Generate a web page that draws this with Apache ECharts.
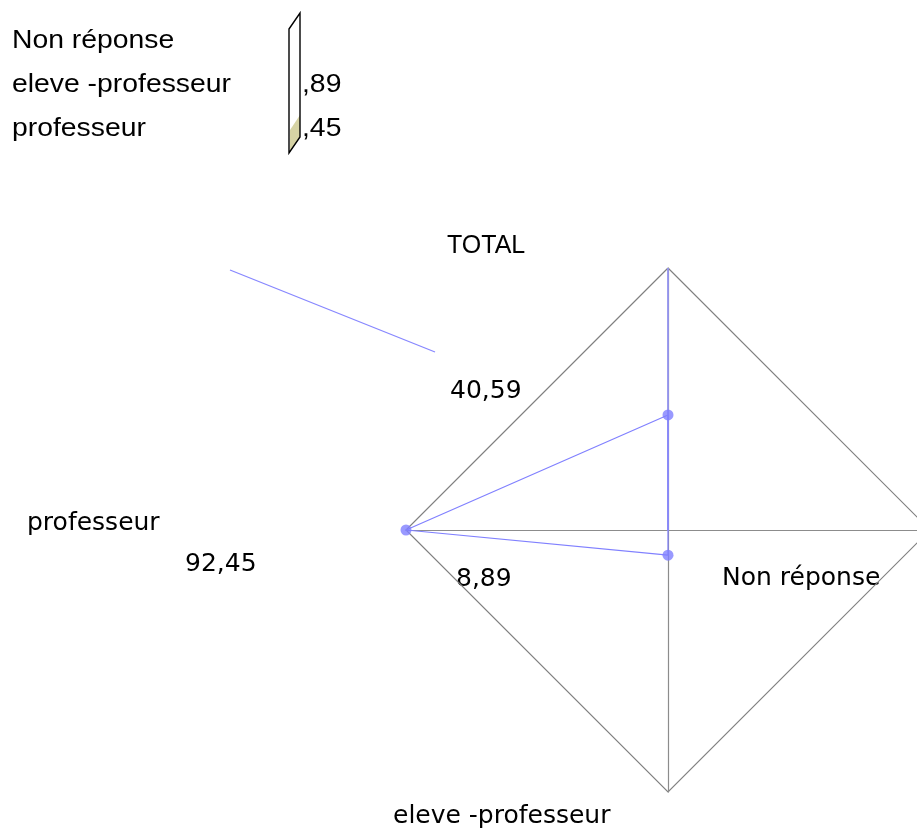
<!DOCTYPE html>
<html><head><meta charset="utf-8">
<script src="https://cdn.jsdelivr.net/npm/echarts@6/dist/echarts.min.js"></script>
<style>html,body{margin:0;padding:0;background:#fff}#c{width:917px;height:829px}</style>
</head><body><div id="c"></div>
<script>
// indicators in ECharts order (counter-clockwise from top)
const indicators = ['TOTAL', 'professeur', 'eleve -professeur', 'Non réponse'];
const values = [40.59, 92.45, 8.89, 0];
const totalRay = [92.45, 0, 0, 0];
const axisMax = 92.45;
const markedPoints = [[40.59, 'TOTAL'], [92.45, 'professeur'], [8.89, 'eleve -professeur']];
const legendNames = ['Non réponse', 'eleve -professeur', 'professeur'];
const legendValues = ['', ',89', ',45'];
const valueLabels = ['40,59', '92,45', '8,89'];

const chart = echarts.init(document.getElementById('c'));
const graphics = [];
legendNames.forEach((n, i) => {
  graphics.push({type:'group', x:12, y:28 + i*44, scaleX:1.09, children:[
    {type:'text', x:0, y:0, style:{text:n, fontFamily:'Liberation Sans', fontSize:26, fill:'#000'}}]});
  if (legendValues[i]) graphics.push({type:'group', x:302, y:28 + i*44, scaleX:1.09, children:[
    {type:'text', x:0, y:0, style:{text:legendValues[i], fontFamily:'Liberation Sans', fontSize:26, fill:'#000'}}]});
});
graphics.push({type:'polygon', shape:{points:[[290,130],[300,115],[300,137],[290,152]]}, style:{fill:'#d6d3a4', stroke:'none'}});
graphics.push({type:'polygon', shape:{points:[[289,29],[300,13],[300,137],[289,153]]}, style:{fill:'none', stroke:'#000', lineWidth:1.4}});
graphics.push({type:'line', shape:{x1:230,y1:270,x2:435,y2:352}, style:{stroke:'#8888ff', lineWidth:1.2}});
const dv = {fontFamily:'DejaVu Sans', fontSize:25, fill:'#000'};
// indicator names
graphics.push({type:'text', x:447, y:234, style:Object.assign({}, dv, {text:'TOTAL', fontFamily:'Liberation Sans'})});
graphics.push({type:'text', x:27, y:511, style:Object.assign({}, dv, {text:'professeur'})});
graphics.push({type:'text', x:722, y:566, style:Object.assign({}, dv, {text:'Non réponse'})});
graphics.push({type:'text', x:393, y:804, style:Object.assign({}, dv, {text:'eleve -professeur'})});
// value labels
graphics.push({type:'text', x:450, y:379, style:Object.assign({}, dv, {text:valueLabels[0]})});
graphics.push({type:'text', x:185, y:552, style:Object.assign({}, dv, {text:valueLabels[1]})});
graphics.push({type:'text', x:456, y:567, style:Object.assign({}, dv, {text:valueLabels[2]})});

chart.setOption({
  animation:false,
  backgroundColor:'#fff',
  radar:{
    center:[668,530], radius:262, startAngle:90, shape:'polygon', splitNumber:1,
    indicator: indicators.map(n => ({name:n, max:axisMax, min:0})),
    axisName:{show:false},
    axisLine:{lineStyle:{color:'#8c8c8c', width:1.2}},
    splitLine:{lineStyle:{color:'#808080', width:1.2}},
    splitArea:{show:false},
    axisTick:{show:false}, axisLabel:{show:false}
  },
  polar:{center:[668,530], radius:262},
  angleAxis:{type:'category', data:indicators, startAngle:90, clockwise:false, boundaryGap:false,
    axisLine:{show:false}, axisTick:{show:false}, axisLabel:{show:false}, splitLine:{show:false}},
  radiusAxis:{type:'value', min:0, max:axisMax,
    axisLine:{show:false}, axisTick:{show:false}, axisLabel:{show:false}, splitLine:{show:false}},
  series:[
    {type:'radar', data:[{value:totalRay}], symbol:'none', lineStyle:{color:'#9494f0', width:1.8}, z:2},
    {type:'radar', data:[{value:values}], symbol:'none', lineStyle:{color:'#8080ff', width:1.2}, z:3},
    {type:'scatter', coordinateSystem:'polar', data:markedPoints, symbolSize:11,
     itemStyle:{color:'#7f7fff'}, z:4}
  ],
  graphic: graphics
});
</script></body></html>
